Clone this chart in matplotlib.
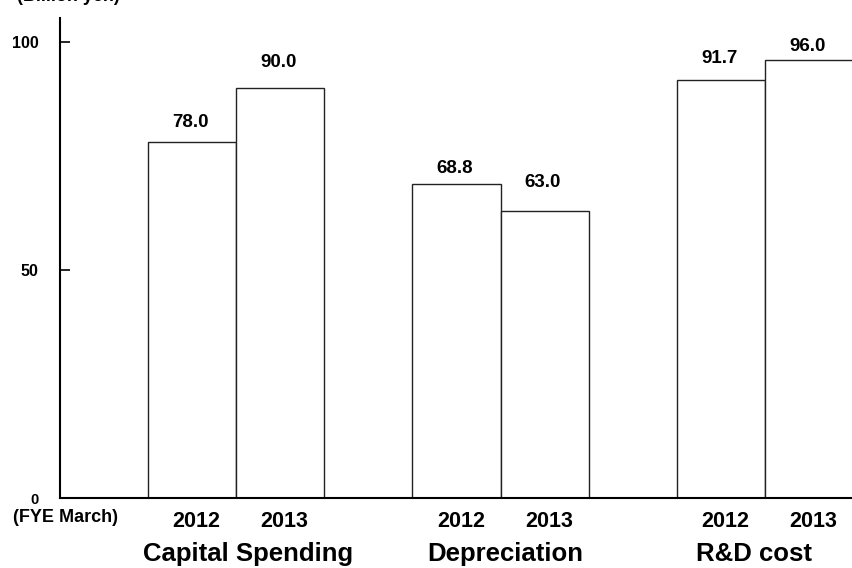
import matplotlib.pyplot as plt

# data
groups = ["Capital Spending", "Depreciation", "R&D cost"]
years = ["2012", "2013"]
values_2012 = [78.0, 68.8, 91.7]
values_2013 = [90.0, 63.0, 96.0]
yticks = [0, 50, 100]

# hand placement of the value labels above each bar (data units), as in the original
label_gap = [[3.3, 4.6], [2.4, 5.3], [3.7, 2.0]]
group_shift = [0.13, 0.05, -0.12]

plt.rcParams['font.family'] = ['Liberation Sans', 'DejaVu Sans']
plt.rcParams['font.weight'] = 'bold'

fig = plt.figure(figsize=(8.53, 5.68), dpi=100)
ax = fig.add_axes([60 / 853, 70 / 568, 793 / 853, 480 / 568])

group_start = [1, 4, 7]
for i, g in enumerate(groups):
    vals = [values_2012[i], values_2013[i]]
    for j, v in enumerate(vals):
        x = group_start[i] + j + 0.5
        ax.bar(x, v, width=1.0, facecolor='white', edgecolor='#222222', linewidth=1.0)
        ax.text(x - 0.02, v + label_gap[i][j], "%.1f" % v, ha='center', va='baseline',
                fontsize=13.5, fontweight='bold')
        ax.text(x + 0.05, -6.4, years[j], ha='center', va='baseline',
                fontsize=15.5, fontweight='bold')
    ax.text(group_start[i] + 1.0 + group_shift[i], -13.8, g, ha='center', va='baseline',
            fontsize=18.5, fontweight='bold')

ax.set_xlim(0, 9)
ax.set_ylim(0, 105.3)
ax.spines['top'].set_visible(False)
ax.spines['right'].set_visible(False)
ax.spines['left'].set_linewidth(1.5)
ax.spines['bottom'].set_linewidth(1.5)
ax.set_xticks([])
ax.set_yticks(yticks[1:])
ax.set_yticklabels([])
ax.tick_params(axis='y', direction='in', length=7, width=1.2)

for t in yticks[1:]:
    ax.text(-0.24, t, str(t), ha='right', va='center_baseline', fontsize=11.5, fontweight='bold')
ax.text(-0.284, 0, "0", ha='center', va='center_baseline', fontsize=10.5, fontweight='bold')
ax.text(0.057, -5.3, "(FYE March)", ha='center', va='baseline', fontsize=13, fontweight='bold')

# the unit label sits mostly above the top edge in the original
fig.text(17 / 853, 1 - 1 / 568, "(Billion yen)", ha='left', va='baseline',
         fontsize=13, fontweight='bold')

fig.savefig("out.png", dpi=100)
